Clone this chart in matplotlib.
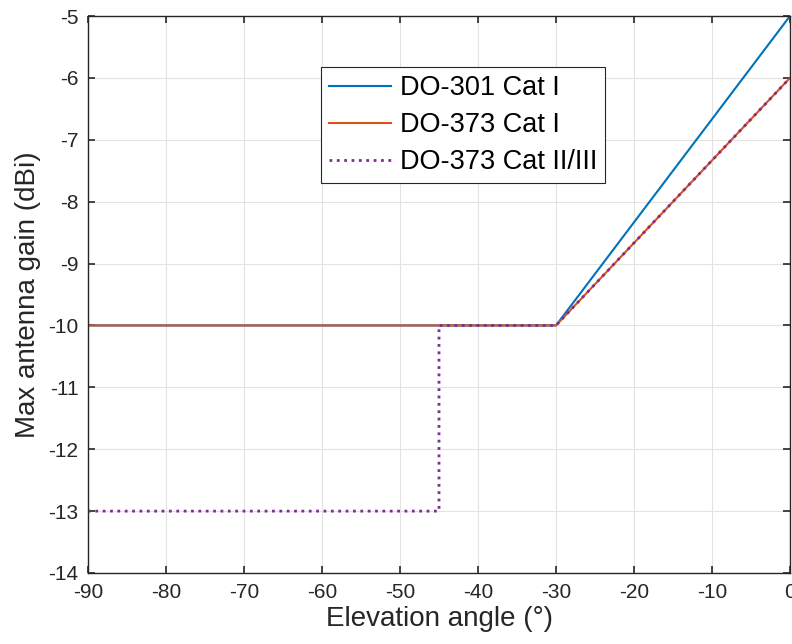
import matplotlib.pyplot as plt

plt.rcParams["font.family"] = ["Liberation Sans", "DejaVu Sans"]
plt.rcParams["axes.unicode_minus"] = False

elev_301 = [-90, -30, 0]
gain_301 = [-10, -10, -5]

elev_373 = [-90, -30, 0]
gain_373 = [-10, -10, -6]

elev_373_2 = [-90, -45, -45, -30, 0]
gain_373_2 = [-13, -13, -10, -10, -6]

fig = plt.figure(figsize=(7.92, 6.44), dpi=100)
ax = fig.add_axes([88 / 792, 1 - 573 / 644, 702 / 792, 557 / 644])

ax.plot(elev_301, gain_301, color="#0072BD", lw=1.5, label="DO-301 Cat I")
ax.plot(elev_373, gain_373, color="#D95319", lw=1.5, label="DO-373 Cat I")
ax.plot(elev_373_2, gain_373_2, color="#7E2F8E", lw=2, ls=":", label="DO-373 Cat II/III")

ax.set_xlim(-90, 0)
ax.set_ylim(-14, -5)
ax.set_xticks(range(-90, 1, 10))
ax.set_yticks(range(-14, -4, 1))
ax.grid(True, color="#e3e3e3", lw=0.8)
ax.set_axisbelow(True)
ax.tick_params(direction="in", top=True, right=True, labelsize=15, colors="#262626",
               length=5, width=1.2, pad=7)
for s in ax.spines.values():
    s.set_color("#262626")
    s.set_linewidth(1.0)

ax.set_xlabel("Elevation angle (°)", fontsize=20, color="#262626", labelpad=3)
ax.set_ylabel("Max antenna gain (dBi)", fontsize=20, color="#262626", labelpad=5)

leg = ax.legend(loc="upper left", bbox_to_anchor=(0.332, 0.908), borderaxespad=0,
                fontsize=19.5, fancybox=False, framealpha=1, edgecolor="#262626",
                handlelength=2.3, borderpad=0.3, labelspacing=0.4, handletextpad=0.3)
leg.get_frame().set_linewidth(0.8)

fig.savefig("out.png", dpi=100)
